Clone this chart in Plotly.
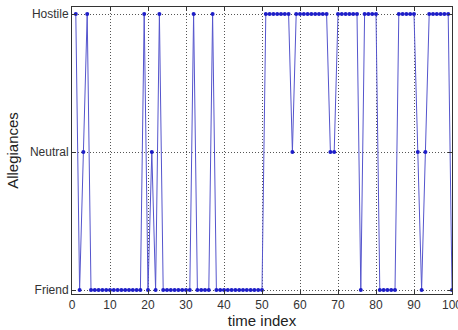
import plotly.graph_objects as go

time_index = list(range(1, 101))
# 1 = Friend, 2 = Neutral, 3 = Hostile
allegiance = (
    [3, 1, 2, 3]                 # 1-4
    + [1] * 14                   # 5-18
    + [3, 1, 2, 1, 3]            # 19-23
    + [1] * 8                    # 24-31
    + [3]                        # 32
    + [1] * 4                    # 33-36
    + [3]                        # 37
    + [1] * 13                   # 38-50
    + [3] * 7                    # 51-57
    + [2]                        # 58
    + [3] * 9                    # 59-67
    + [2, 2]                     # 68-69
    + [3] * 6                    # 70-75
    + [1]                        # 76
    + [3] * 4                    # 77-80
    + [1] * 5                    # 81-85
    + [3] * 5                    # 86-90
    + [2, 1, 2]                  # 91-93
    + [3] * 6                    # 94-99
    + [1]                        # 100
)

y_tickvals = [1, 2, 3]
y_ticktext = ["Friend", "Neutral", "Hostile"]
x_tickvals = list(range(0, 101, 10))

fig = go.Figure()
fig.add_trace(go.Scatter(
    x=time_index, y=allegiance, mode="lines+markers",
    line=dict(color="rgb(85,85,205)", width=1),
    marker=dict(color="rgb(30,30,200)", size=4),
    showlegend=False, cliponaxis=True,
))

axis_common = dict(
    showline=True, linecolor="#333", linewidth=1, mirror="ticks",
    ticks="inside", ticklen=4, tickcolor="#333",
    showgrid=True, gridcolor="#555", gridwidth=1, griddash="1px,2px",
    zeroline=False, ticklabeloverflow="allow", automargin=False,
    tickfont=dict(family="Liberation Sans, Arial", size=12, color="#333"),
)

fig.update_xaxes(
    range=[0, 100], tickvals=x_tickvals,
    title=dict(text="time index", font=dict(family="Liberation Sans, Arial", size=15, color="#222"), standoff=3),
    **axis_common,
)
fig.update_yaxes(
    range=[0.971, 3.051], tickvals=y_tickvals, ticktext=y_ticktext,
    title=dict(text="Allegiances", font=dict(family="Liberation Sans, Arial", size=15, color="#222"), standoff=7),
    **axis_common,
)

fig.update_layout(
    width=458, height=330,
    margin=dict(l=72, r=6, t=7, b=36),
    paper_bgcolor="white", plot_bgcolor="white",
)

fig.write_html("out.html", config={"displayModeBar": False},
               post_script="document.body.style.margin='0';")
